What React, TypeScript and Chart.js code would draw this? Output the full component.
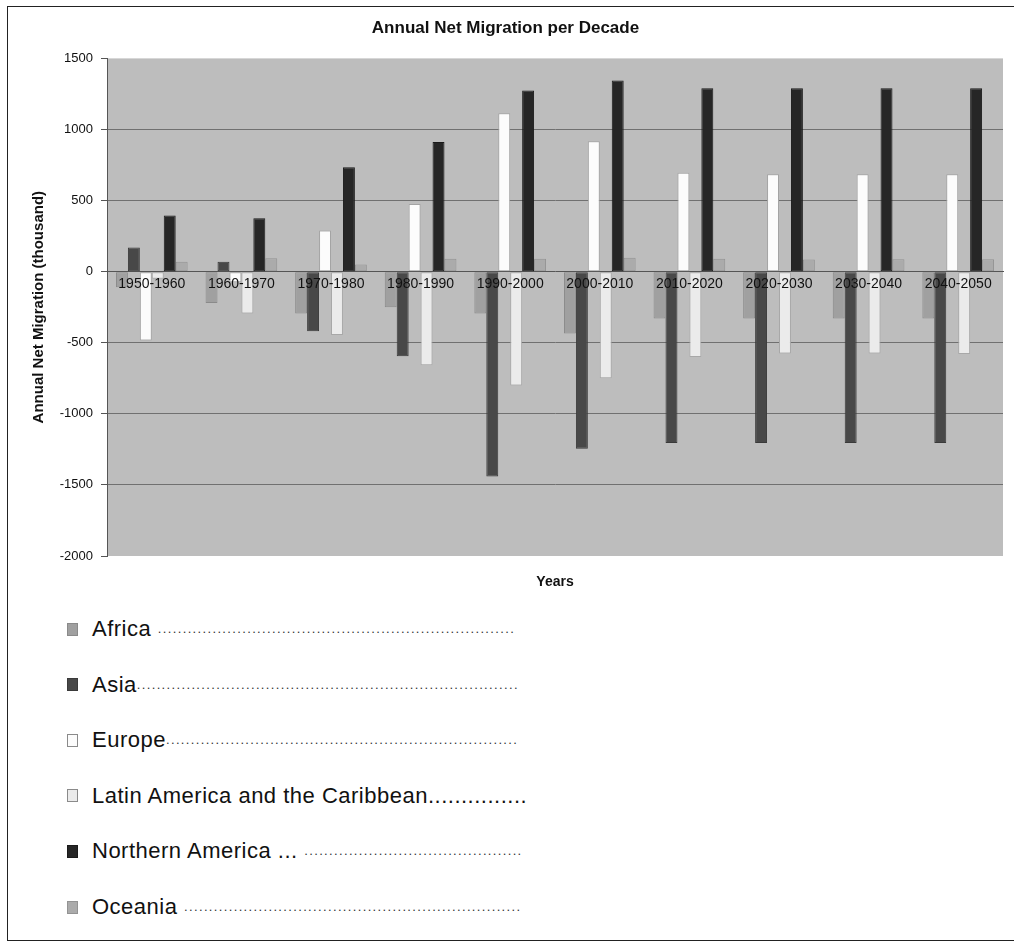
import React, { useEffect, useRef } from "react";
import { Chart, registerables } from "chart.js";

Chart.register(...registerables);

// Decades on the category axis
const decades = [
  "1950-1960",
  "1960-1970",
  "1970-1980",
  "1980-1990",
  "1990-2000",
  "2000-2010",
  "2010-2020",
  "2020-2030",
  "2030-2040",
  "2040-2050",
];

const seriesNames = [
  "Africa",
  "Asia",
  "Europe",
  "Latin America and the Caribbean",
  "Northern America",
  "Oceania",
];

// Annual net migration (thousand) per decade
const africa = [-110, -220, -295, -250, -295, -435, -330, -330, -330, -330];
const asia = [170, 70, -420, -595, -1440, -1245, -1205, -1205, -1205, -1205];
const europe = [-485, -75, 290, 476, 1115, 917, 695, 685, 685, 685];
const latinAmerica = [-50, -295, -445, -658, -800, -750, -600, -575, -575, -580];
const northernAmerica = [395, 375, 735, 912, 1275, 1345, 1290, 1290, 1290, 1290];
const oceania = [70, 95, 50, 90, 90, 98, 90, 85, 88, 88];

const seriesValues = [africa, asia, europe, latinAmerica, northernAmerica, oceania];

const seriesFill = ["#a0a0a0", "#484848", "#fcfcfc", "#ebebeb", "#262626", "#ababab"];
const seriesEdge = ["#8a8a8a", "#3a3a3a", "#a4a4a4", "#a8a8a8", "#1a1a1a", "#939393"];

// Value axis range
const yMin = -2000;
const yMax = 1500;
const yStep = 500;

// Leader dots after each legend name: [text right after name, count of fine dots]
const legendLeaders: [string, number][] = [
  [" ", 72],
  ["", 77],
  ["", 71],
  ["...............", 0],
  [" ... ", 44],
  [" ", 68],
];

const FONT = 'Arial, "Liberation Sans", Helvetica, sans-serif';

const plotBackground = {
  id: "plotBackground",
  beforeDraw(chart: any) {
    const { ctx, chartArea } = chart;
    if (!chartArea) return;
    ctx.save();
    ctx.fillStyle = "#bdbdbd";
    ctx.fillRect(
      chartArea.left,
      chartArea.top,
      chartArea.right - chartArea.left,
      chartArea.bottom - chartArea.top
    );
    ctx.restore();
  },
};

function MigrationChart() {
  const canvasRef = useRef<HTMLCanvasElement | null>(null);

  useEffect(() => {
    if (!canvasRef.current) return;
    Chart.defaults.font.family = FONT;
    const hidden = (v: number) => v === 0 || v === yMax || v === yMin;
    const chart = new Chart(canvasRef.current, {
      type: "bar",
      data: {
        labels: decades,
        datasets: seriesNames.map((name, i) => ({
          label: name,
          data: seriesValues[i],
          backgroundColor: seriesFill[i],
          borderColor: seriesEdge[i],
          borderWidth: 1,
          borderSkipped: false,
          categoryPercentage: 0.8,
          barPercentage: 1.0,
        })),
      },
      options: {
        animation: false,
        responsive: true,
        maintainAspectRatio: false,
        layout: { padding: { left: 0, right: 11, top: 0, bottom: 0 } },
        plugins: {
          legend: { display: false },
          tooltip: { enabled: false },
          title: {
            display: true,
            text: "Annual Net Migration per Decade",
            color: "#111",
            font: { size: 17, weight: "bold", family: FONT },
            padding: { top: 11, bottom: 20 },
          },
        },
        scales: {
          x: {
            type: "category",
            position: { y: 0 } as any,
            offset: true,
            grid: { display: false, drawTicks: false },
            border: { display: true, color: "#555", width: 1, dash: [3, 2] },
            ticks: {
              z: 1,
              color: "#111",
              font: { size: 14, family: FONT },
              padding: 4,
              maxRotation: 0,
              autoSkip: false,
            },
          },
          x2: {
            type: "category",
            position: "bottom",
            offset: true,
            grid: { display: false },
            border: { display: false },
            ticks: { display: false },
            title: {
              display: true,
              text: "Years",
              color: "#111",
              font: { size: 14, weight: "bold", family: FONT },
              padding: { top: 0, bottom: 16 },
            },
            afterFit: (s: any) => {
              s.height = 51;
            },
          },
          y: {
            min: yMin,
            max: yMax,
            ticks: {
              stepSize: yStep,
              color: "#111",
              font: { size: 13, family: FONT },
              padding: 8,
              callback: (v: any) => String(v),
            },
            grid: {
              color: (c: any) =>
                c.tick && hidden(c.tick.value) ? "rgba(0,0,0,0)" : "#707070",
              tickColor: "#555",
              tickLength: 6,
              lineWidth: 1,
            },
            border: { display: true, color: "#555", width: 1 },
            title: {
              display: true,
              text: "Annual Net Migration (thousand)",
              color: "#111",
              font: { size: 15, weight: "bold", family: FONT },
              padding: { top: 22, bottom: 0 },
            },
            afterFit: (s: any) => {
              s.width = 99;
            },
          },
        },
      } as any,
      plugins: [plotBackground],
    });
    return () => chart.destroy();
  }, []);

  return (
    <div style={{ position: "absolute", left: 0, top: 0, width: 1006, height: 600 }}>
      <canvas ref={canvasRef} />
    </div>
  );
}

function LegendList() {
  return (
    <>
      {seriesNames.map((name, i) => (
        <div
          key={name}
          style={{
            position: "absolute",
            left: 59,
            top: 609 + i * 55.6,
            height: 26,
            lineHeight: "26px",
            whiteSpace: "pre",
            fontFamily: FONT,
            fontSize: 22,
            letterSpacing: "0.5px",
            color: "#111",
            display: "flex",
            alignItems: "center",
          }}
        >
          <span
            style={{
              display: "inline-block",
              width: 9,
              height: 11,
              background: seriesFill[i],
              border: `1px solid ${i === 2 || i === 3 ? "#8a8a8a" : seriesEdge[i]}`,
              marginRight: 14,
            }}
          />
          <span style={{ whiteSpace: "pre" }}>{name + legendLeaders[i][0]}</span>
          {legendLeaders[i][1] > 0 && (
            <span style={{ fontSize: 13, letterSpacing: "1.35px", color: "#333" }}>
              {".".repeat(legendLeaders[i][1])}
            </span>
          )}
        </div>
      ))}
    </>
  );
}

export default function App() {
  return (
    <div
      style={{
        position: "absolute",
        left: 7,
        top: 6,
        width: 1006,
        height: 933,
        borderLeft: "1px solid #222",
        borderTop: "1px solid #222",
        borderBottom: "1px solid #222",
        background: "#fff",
      }}
    >
      <MigrationChart />
      <LegendList />
    </div>
  );
}
